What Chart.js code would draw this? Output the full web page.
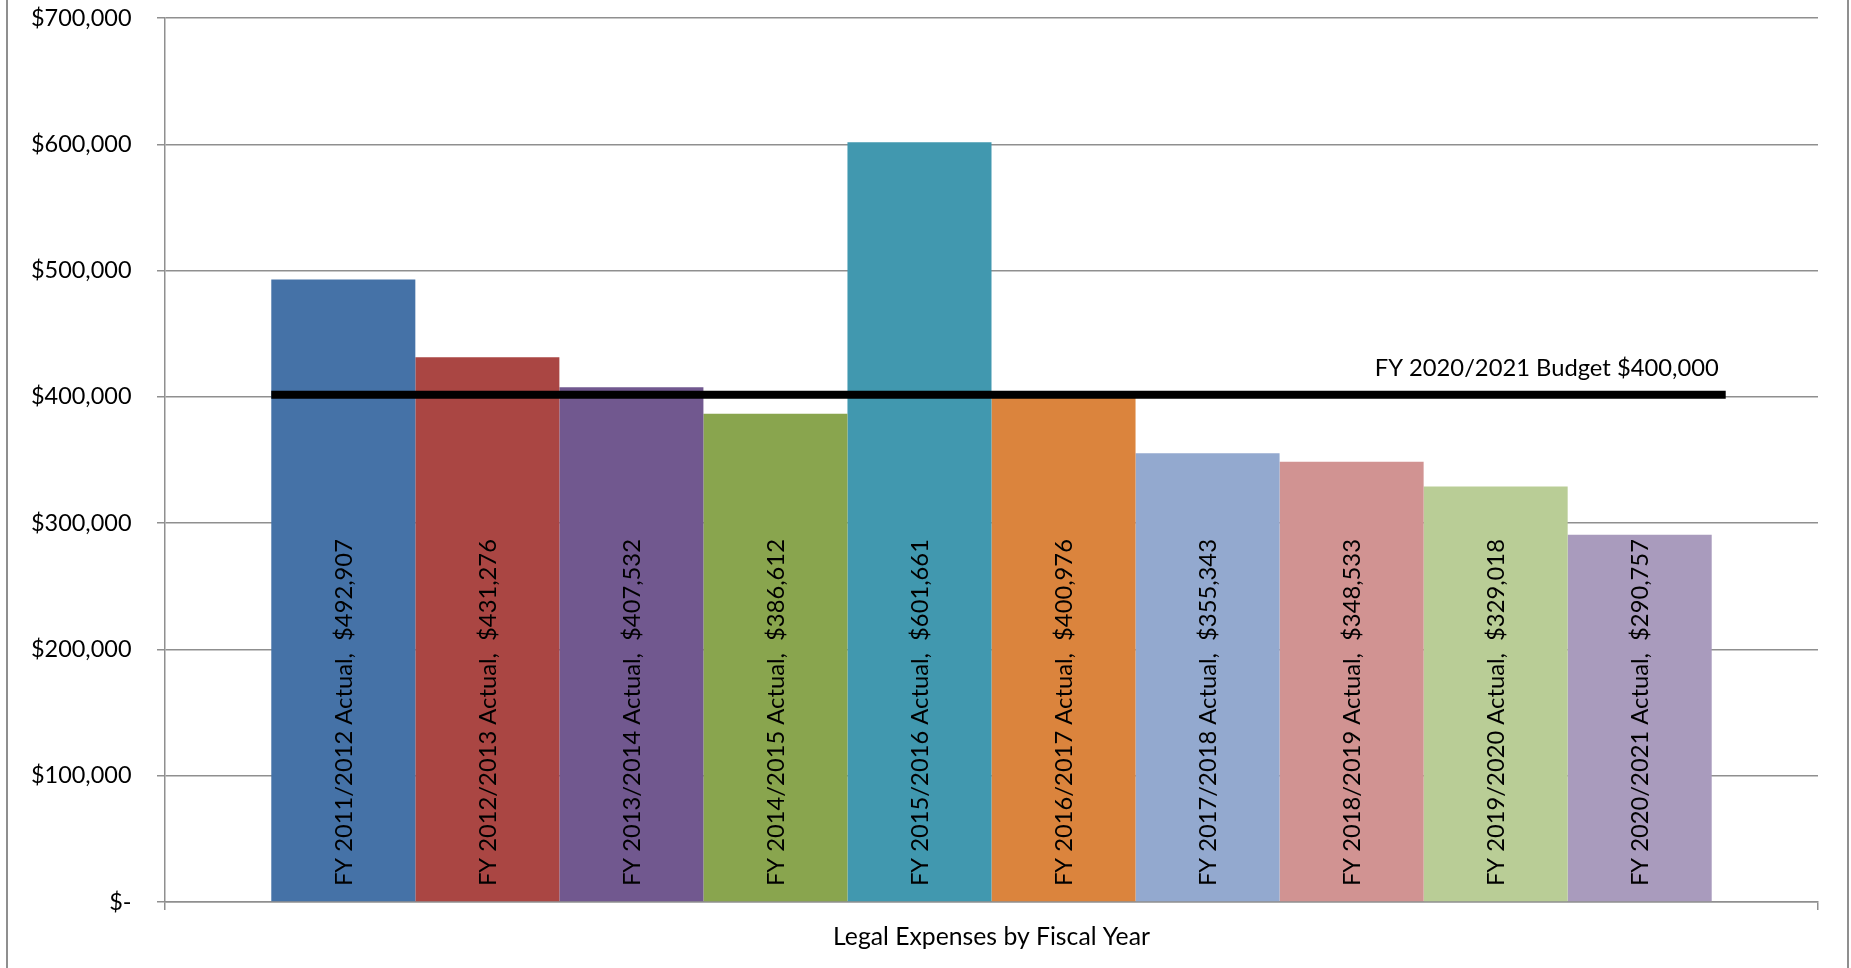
<!DOCTYPE html>
<html><head><meta charset="utf-8">
<script src="https://cdn.jsdelivr.net/npm/chart.js@4.4.1/dist/chart.umd.min.js"></script>
<style>html,body{margin:0;padding:0;background:#fff;overflow:hidden}canvas{display:block}</style>
</head><body>
<canvas id="c" width="1851" height="968" style="width:1851px;height:968px"></canvas>
<script>
// ---- data ----
const fiscalYears = ['FY 2011/2012','FY 2012/2013','FY 2013/2014','FY 2014/2015','FY 2015/2016',
                     'FY 2016/2017','FY 2017/2018','FY 2018/2019','FY 2019/2020','FY 2020/2021'];
const actuals = [492907, 431276, 407532, 386612, 601661, 400976, 355343, 348533, 329018, 290757];
const barColors = ['#4572A7','#AA4643','#71588F','#89A54E','#4198AF','#DB843D','#93A9CF','#D19392','#B9CD96','#A99BBD'];
const categories = ['Legal Expenses by Fiscal Year'];
const budgetYear = 'FY 2020/2021';
const budgetValue = 400000;
const yTickLabels = ['$-','$100,000','$200,000','$300,000','$400,000','$500,000','$600,000','$700,000'];

const money = v => '$' + v.toLocaleString('en-US');
const FAMILY = 'Lato, "Open Sans", sans-serif';
const mctx = document.createElement('canvas').getContext('2d');
function fit(text, target) { mctx.font = '100px ' + FAMILY; return 100 * target / mctx.measureText(text).width; }
const tickSize = fit('$700,000', 100.6);
const labelSize = fit('FY 2019/2020 Actual,  $329,018', 347);
const catSize = fit(categories[0], 317);
const budgetSize = fit(budgetYear + ' Budget ' + money(budgetValue), 344);
const GRID = '#8f8f8f';

const overlay = {
  id: 'overlay',
  beforeDraw(chart) {
    const ctx = chart.ctx;
    ctx.save();
    ctx.strokeStyle = GRID; ctx.lineWidth = 2;
    ctx.beginPath();
    ctx.moveTo(7, 0); ctx.lineTo(7, chart.height);
    ctx.moveTo(1848, 0); ctx.lineTo(1848, chart.height);
    ctx.stroke();
    ctx.restore();
  },
  afterDatasetsDraw(chart) {
    const ctx = chart.ctx, y = chart.scales.y;
    const first = chart.getDatasetMeta(0).data[0];
    const last = chart.getDatasetMeta(actuals.length - 1).data[0];
    ctx.save();
    // data labels
    ctx.fillStyle = '#000';
    ctx.font = labelSize.toFixed(2) + 'px ' + FAMILY;
    ctx.textAlign = 'center'; ctx.textBaseline = 'middle';
    const cy = y.getPixelForValue(150000);
    actuals.forEach((v, i) => {
      const bar = chart.getDatasetMeta(i).data[0];
      ctx.save();
      ctx.translate(bar.x + 1, cy);
      ctx.rotate(-Math.PI / 2);
      ctx.fillText(fiscalYears[i] + ' Actual,  ' + money(v), 0, 0);
      ctx.restore();
    });
    // budget line
    const by = y.getPixelForValue(budgetValue) - 2;
    const x0 = first.x - first.width / 2;
    const x1 = last.x + last.width / 2 + 14;
    ctx.strokeStyle = '#000'; ctx.lineWidth = 8;
    ctx.beginPath(); ctx.moveTo(x0, by); ctx.lineTo(x1, by); ctx.stroke();
    ctx.font = budgetSize.toFixed(2) + 'px ' + FAMILY;
    ctx.textAlign = 'right'; ctx.textBaseline = 'alphabetic';
    ctx.fillText(budgetYear + ' Budget ' + money(budgetValue), x1 - 7, by - 19);
    ctx.restore();
  }
};

new Chart(document.getElementById('c'), {
  type: 'bar',
  data: {
    labels: categories,
    datasets: actuals.map((v, i) => ({
      label: fiscalYears[i], data: [v], backgroundColor: barColors[i], borderWidth: 0,
      barPercentage: 1, categoryPercentage: 0.8714
    }))
  },
  options: {
    responsive: false, animation: false, devicePixelRatio: 1,
    layout: { padding: { left: 0, right: 33, top: 18, bottom: 0 } },
    plugins: { legend: { display: false }, tooltip: { enabled: false } },
    scales: {
      x: {
        grid: { display: true, drawOnChartArea: false, drawTicks: true, tickLength: 8, color: GRID, lineWidth: 1.5, offset: true },
        border: { display: true, color: GRID, width: 1.5 },
        ticks: { color: '#000', font: { family: FAMILY, size: catSize }, padding: 12 },
        afterFit(s) { s.height = 66; s.paddingLeft = 0; s.paddingRight = 0; }
      },
      y: {
        min: 0, max: 700000,
        grid: { color: GRID, lineWidth: 1.5, tickLength: 8, drawTicks: true },
        border: { display: true, color: GRID, width: 1.5 },
        ticks: { stepSize: 100000, color: '#000', padding: 25.5,
                 font: { family: FAMILY, size: tickSize },
                 callback: (v, i) => yTickLabels[i] },
        afterFit(s) { s.width = 165; s.paddingTop = 0; s.paddingBottom = 0; }
      }
    }
  },
  plugins: [overlay]
});
</script>
</body></html>
